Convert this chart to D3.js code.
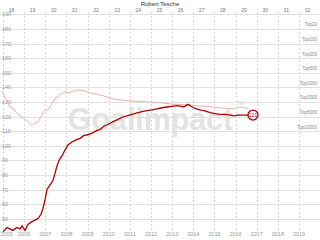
<!DOCTYPE html>
<html>
<head>
<meta charset="utf-8">
<script src="https://cdn.jsdelivr.net/npm/d3@7"></script>
<style>
  body { margin: 0; background: #fff; }
  svg { display: block; font-family: Arial, "Liberation Sans", sans-serif; }
</style>
</head>
<body>
<div id="chart"></div>
<script>
const playerName = "Robert Tesche";
const birthYear = 1987.40;
const ages = d3.range(18, 33);
const years = d3.range(2005, 2020);
const yTicks = d3.range(50, 200, 10);
const rankLabels = ["Top20", "Top100", "Top200", "Top500", "Top1000", "Top2000", "Top5000", "Top10000"];
const rankLevels = [180, 170, 160, 150, 140, 130, 120, 110];

// main rating (dark red)
const ratingDates = [2005.0, 2005.19, 2005.33, 2005.47, 2005.66, 2005.80, 2005.90, 2006.04, 2006.18, 2006.37,
  2006.51, 2006.65, 2006.80, 2006.89, 2006.99, 2007.08, 2007.22, 2007.36, 2007.46, 2007.55,
  2007.65, 2007.79, 2007.93, 2008.07, 2008.26, 2008.45, 2008.64, 2008.83, 2009.02, 2009.26,
  2009.44, 2009.59, 2009.78, 2009.96, 2010.20, 2010.44, 2010.63, 2010.86, 2011.10, 2011.34,
  2011.57, 2011.81, 2012.04, 2012.28, 2012.52, 2012.75, 2012.99, 2013.23, 2013.42, 2013.56,
  2013.75, 2013.89, 2014.08, 2014.31, 2014.55, 2014.79, 2015.02, 2015.26, 2015.50, 2015.77,
  2015.92, 2016.11, 2016.35, 2016.54, 2016.73];
const ratingValues = [41, 44, 43, 42, 44, 43, 45, 42, 46, 48,
  49, 50, 53, 57, 63, 70, 73, 76, 81, 86,
  90, 93, 97, 100.5, 102.5, 104, 105, 107, 107.5, 109,
  110.5, 111, 113.5, 114.5, 116.5, 118, 119.5, 120.5, 121.5, 122.5,
  123.3, 124, 124.5, 125.3, 126, 126.5, 127, 127.4, 127, 126.7,
  128.3, 127, 125.5, 124.5, 123.8, 122.7, 122, 121.5, 121.5, 121,
  120.5, 121, 121, 121, 121];

// peer line (light)
const peerDates = [2004.95, 2005.09, 2005.24, 2005.33, 2005.47, 2005.61, 2005.71, 2005.95, 2006.18, 2006.37,
  2006.51, 2006.65, 2006.84, 2006.99, 2007.13, 2007.32, 2007.46, 2007.60, 2007.79, 2007.93,
  2008.07, 2008.26, 2008.40, 2008.64, 2008.88, 2009.11, 2009.35, 2009.59, 2009.92, 2010.06,
  2010.53, 2011.15, 2011.81, 2012.42, 2013.04, 2013.70, 2014.31, 2014.79, 2015.26, 2015.73,
  2015.95, 2016.06, 2016.35, 2016.59];
const peerValues = [138, 133, 129, 126.5, 125.8, 123, 121.6, 119, 116.5, 114,
  115.5, 116, 121, 124.5, 124.5, 129, 132.5, 133.5, 136, 137,
  136, 137, 138, 138, 137.5, 136, 135.5, 134.7, 133.5, 132.5,
  131.3, 130.6, 130, 129.5, 128.4, 128, 127.2, 126.7, 126, 125.4,
  125.2, 126.3, 126.3, 125.5];

const currentLabel = "121";

const width = 320, height = 240;
const x = d3.scaleLinear().domain([2005, 2019]).range([3, 299]);
const y = d3.scaleLinear().domain([40, 190]).range([233.3, 14.3]);

const svg = d3.select("#chart").append("svg")
  .attr("width", width)
  .attr("height", height);

// watermark
svg.append("text")
  .attr("x", 68).attr("y", 130)
  .attr("textLength", 165)
  .attr("lengthAdjust", "spacingAndGlyphs")
  .style("font-size", "31px")
  .style("font-weight", "bold")
  .attr("fill", "#e3e3e3")
  .text("Goalimpact");
svg.append("text")
  .attr("x", 237).attr("y", 104.5)
  .style("font-size", "5px")
  .attr("fill", "#cfcfcf")
  .text("TM");

// horizontal grid
svg.append("g").selectAll("line")
  .data(yTicks)
  .join("line")
  .attr("x1", 0).attr("x2", width)
  .attr("y1", d => Math.round(y(d)) + 0.5)
  .attr("y2", d => Math.round(y(d)) + 0.5)
  .attr("stroke", "#e0e0e0")
  .attr("stroke-width", 1);

// vertical grid
svg.append("g").selectAll("line")
  .data(years)
  .join("line")
  .attr("x1", d => Math.round(x(d)) + 0.5)
  .attr("x2", d => Math.round(x(d)) + 0.5)
  .attr("y1", 12).attr("y2", 231)
  .attr("stroke", "#d8d8d8")
  .attr("stroke-dasharray", "2,2")
  .attr("stroke-width", 1);

// y labels
svg.append("g").selectAll("text")
  .data(yTicks)
  .join("text")
  .attr("x", 2)
  .attr("y", d => y(d) + 2)
  .style("font-size", "5.5px")
  .attr("fill", "#999")
  .text(d => d);

// x labels
svg.append("g").selectAll("text")
  .data(years)
  .join("text")
  .attr("x", d => d === 2005 ? 0.5 : x(d))
  .attr("y", 236)
  .attr("text-anchor", d => d === 2005 ? "start" : "middle")
  .style("font-size", "5.5px")
  .attr("fill", "#999")
  .text(d => d);

// age labels
svg.append("g").selectAll("text")
  .data(ages)
  .join("text")
  .attr("x", d => x(birthYear + d))
  .attr("y", 11.5)
  .attr("text-anchor", "middle")
  .style("font-size", "5px")
  .attr("fill", "#777")
  .text(d => d);

// title
svg.append("text")
  .attr("x", 160).attr("y", 6)
  .attr("text-anchor", "middle")
  .style("font-size", "6px")
  .attr("fill", "#333")
  .text(playerName);

// rank labels
svg.append("g").selectAll("text")
  .data(rankLabels)
  .join("text")
  .attr("x", 317)
  .attr("y", (d, i) => y(rankLevels[i]) - 2.5)
  .attr("text-anchor", "end")
  .style("font-size", "4.5px")
  .attr("fill", "#888")
  .text(d => d);

const line = d3.line()
  .x(d => x(d[0]))
  .y(d => y(d[1]));

svg.append("path")
  .datum(d3.zip(peerDates, peerValues))
  .attr("d", line)
  .attr("fill", "none")
  .attr("stroke", "#ecb0b0")
  .attr("stroke-width", 1);

const rating = d3.zip(ratingDates, ratingValues);
svg.append("path")
  .datum(rating)
  .attr("d", line)
  .attr("fill", "none")
  .attr("stroke", "#b00000")
  .attr("stroke-width", 1.3);

const last = rating[rating.length - 1];
svg.append("circle")
  .attr("cx", x(last[0]) + 2)
  .attr("cy", y(last[1]))
  .attr("r", 5)
  .attr("fill", "#fff")
  .attr("stroke", "#b00000")
  .attr("stroke-width", 1.3);
svg.append("text")
  .attr("x", x(last[0]) + 2)
  .attr("y", y(last[1]) + 1.8)
  .attr("text-anchor", "middle")
  .style("font-size", "5px")
  .attr("fill", "#b00000")
  .text(currentLabel);
</script>
</body>
</html>
